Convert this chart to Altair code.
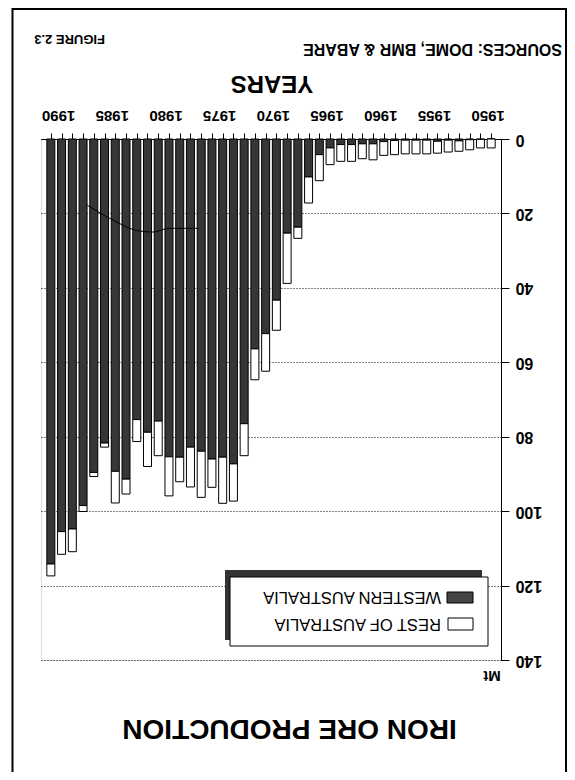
import altair as alt
import pandas as pd

years = list(range(1950, 1992))
western_australia = [0.0, 0.1, 0.2, 0.5, 0.3, 0.6, 0.3, 0.3, 0.3, 0.4,
                     0.7, 1.3, 1.3, 1.5, 1.5, 2.4, 4.2, 10.2, 23.7, 25.3,
                     43.3, 52.3, 56.4, 76.5, 87.3, 85.5, 86.0, 83.9, 82.8, 85.5,
                     85.4, 75.8, 78.8, 75.4, 91.4, 89.3, 81.7, 89.6, 98.5, 104.8,
                     105.5, 114.2]
rest_of_australia = [2.4, 2.3, 2.7, 2.8, 3.2, 3.2, 3.7, 3.7, 3.7, 3.8,
                     3.7, 4.3, 4.0, 4.5, 4.5, 4.5, 7.0, 7.0, 3.0, 13.5,
                     8.1, 10.1, 8.3, 8.6, 10.0, 12.4, 7.6, 12.4, 10.7, 6.6,
                     10.5, 9.3, 9.2, 5.9, 4.0, 8.5, 1.1, 1.1, 1.6, 6.1,
                     6.1, 3.2]
year_labels = [1950, 1955, 1960, 1965, 1970, 1975, 1980, 1985, 1990]
stray_years = [1987.6, 1985.2, 1983.1, 1981.5, 1980.0, 1977.2]
stray_values = [17.8, 21.8, 24.5, 25.0, 24.0, 24.0]
y_ticks = [0, 20, 40, 60, 80, 100, 120, 140]
legend_labels = ["WESTERN AUSTRALIA", "REST OF AUSTRALIA"]

FONT = "Liberation Sans"

df = pd.DataFrame({"year": years, "wa": western_australia, "rest": rest_of_australia})
df["total"] = df["wa"] + df["rest"]
stray = pd.DataFrame({"year": stray_years, "value": stray_values})
lab = pd.DataFrame({"year": year_labels, "txt": [str(v) for v in year_labels]})

x_enc = alt.X(
    "year:Q",
    scale=alt.Scale(domain=[1949.55, 1991.45], reverse=True, nice=False, zero=False),
    axis=alt.Axis(
        orient="top", values=years, title=None, grid=False, labels=False,
        tickSize=6, tickColor="black", domainColor="black",
    ),
)


def y_enc(field):
    return alt.Y(
        field,
        scale=alt.Scale(domain=[0, 140], reverse=True, nice=False),
        axis=alt.Axis(
            orient="right", values=y_ticks, title=None,
            tickSize=8, tickColor="black", domainColor="black",
            labelAngle=180, labelAlign="right", labelBaseline="middle", labelPadding=6,
            labelFont=FONT, labelFontSize=16, labelFontWeight="bold", labelColor="black",
            grid=True, gridColor="black", gridDash=[1, 2], gridWidth=1, gridOpacity=1,
        ),
    )


base = alt.Chart(df)
wa_bars = base.mark_bar(size=8, fill="#363636", stroke="black", strokeWidth=1).encode(
    x=x_enc, y=y_enc("wa:Q")
)
rest_bars = base.mark_bar(size=8, fill="white", stroke="black", strokeWidth=1).encode(
    x=x_enc, y=y_enc("wa:Q"), y2="total:Q"
)
stray_line = alt.Chart(stray).mark_line(color="black", strokeWidth=1, interpolate="monotone").encode(
    x=x_enc, y=y_enc("value:Q")
)
year_text = alt.Chart(lab).mark_text(
    angle=180, align="center", baseline="top", dx=3, font=FONT, fontSize=15,
    fontWeight="bold", color="black",
).encode(x=x_enc, y=alt.value(-16), text="txt:N")

one = alt.Data(values=[{}])


def rect(x1, x2, y1, y2, **kw):
    return alt.Chart(one).mark_rect(**kw).encode(
        x=alt.value(x1), x2=alt.value(x2), y=alt.value(y1), y2=alt.value(y2)
    )


def text(s, x, y, size, weight="bold", align="center"):
    return alt.Chart(one).mark_text(
        text=s, angle=180, align=align, baseline="middle", font=FONT,
        fontSize=size, fontWeight=weight, color="black",
    ).encode(x=alt.value(x), y=alt.value(y))


frame = rect(-28.5, 525, -130, 640, filled=False, stroke="black", strokeWidth=2)
shadow = rect(184, 441, 431, 501, fill="#333333")
box = rect(189, 447, 438, 507, fill="white", stroke="black", strokeWidth=1)
sw_wa = rect(406, 432, 453, 464, fill="#444444", stroke="black", strokeWidth=1)
sw_rest = rect(407, 432, 479, 491, fill="white", stroke="black", strokeWidth=1)

texts = [
    text(legend_labels[0], 400, 458, 16.5, weight="normal", align="left"),
    text(legend_labels[1], 400, 485, 16.5, weight="normal", align="left"),
    text("IRON ORE PRODUCTION", 248.5, 589, 28),
    text("Mt", 451, 537, 15),
    text("YEARS", 231, -56, 24),
    text("SOURCES: DOME, BMR & ABARE", 521, -90, 16, align="left"),
    text("FIGURE 2.3", 64, -100, 13, align="left"),
]

chart = alt.layer(
    frame, wa_bars, rest_bars, stray_line, year_text, shadow, box, sw_wa, sw_rest, *texts
).properties(
    width=460, height=521,
    padding={"left": 33, "top": 131, "right": 66, "bottom": 112},
    autosize=alt.AutoSizeParams(type="none"),
).configure_view(stroke="black", strokeWidth=1).configure(background="white")

chart.save("out.html", embed_options={"renderer": "svg", "actions": False})
